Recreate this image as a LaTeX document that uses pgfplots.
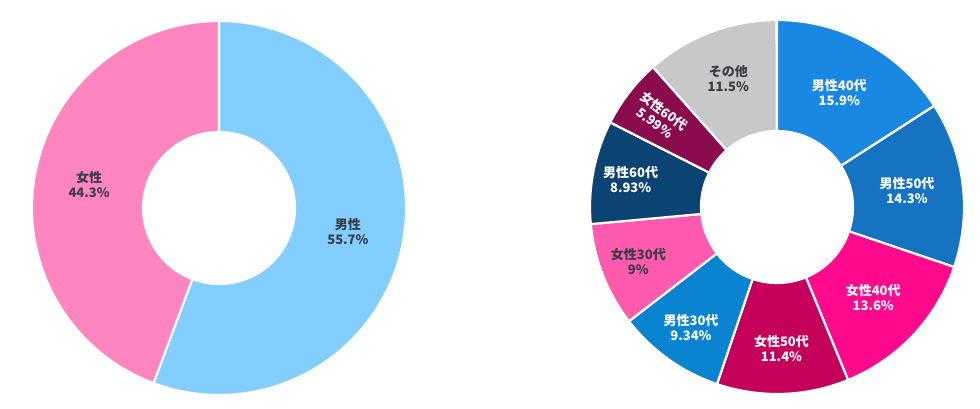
\documentclass[border=0pt]{standalone}
\usepackage{fontspec}
\setmainfont{Noto Sans CJK JP}
\usepackage{pgfplots}
\usepackage{pgfplotstable}
\pgfplotsset{compat=1.18}

\definecolor{mA}{HTML}{82CFFF}
\definecolor{fA}{HTML}{FF85C0}
\definecolor{m40}{HTML}{1A88E2}
\definecolor{m50}{HTML}{1573C2}
\definecolor{f40}{HTML}{FF0A8C}
\definecolor{f50}{HTML}{C4005A}
\definecolor{m30}{HTML}{0A84D0}
\definecolor{f30}{HTML}{FF5AAE}
\definecolor{m60}{HTML}{0B4472}
\definecolor{f60}{HTML}{8A0B4E}
\definecolor{oth}{HTML}{C8C8C8}
\definecolor{dk}{HTML}{3A3C46}

% name, share (%), fill, label colour, label radius, label rotation
\pgfplotstableread[col sep=comma]{
name,value,col,tc,lr,rot
男性,55.7,mA,dk,131,0
女性,44.3,fA,dk,132,0
}\leftdata

\pgfplotstableread[col sep=comma]{
name,value,col,tc,lr,rot
男性40代,15.9,m40,white,130,0
男性50代,14.3,m50,white,131,0
女性40代,13.6,f40,white,132,0
女性50代,11.4,f50,white,142,0
男性30代,9.34,m30,white,148,0
女性30代,9,f30,dk,149,0
男性60代,8.93,m60,white,149,0
女性60代,5.99,f60,white,148,-37.8
その他,11.5,oth,dk,137,0
}\rightdata

% #1 table, #2 #3 centre, #4 last row index
\newcommand\donut[4]{%
  \pgfplotsextra{\xdef\cumsum{0}}%
  \pgfplotsinvokeforeach{0,...,#4}{%
    \pgfplotsextra{%
      \pgfplotstablegetelem{##1}{value}\of#1\let\v\pgfplotsretval
      \pgfplotstablegetelem{##1}{name}\of#1\let\nm\pgfplotsretval
      \pgfplotstablegetelem{##1}{col}\of#1\let\fc\pgfplotsretval
      \pgfplotstablegetelem{##1}{tc}\of#1\let\tc\pgfplotsretval
      \pgfplotstablegetelem{##1}{lr}\of#1\let\lr\pgfplotsretval
      \pgfplotstablegetelem{##1}{rot}\of#1\let\rt\pgfplotsretval
      \pgfmathsetmacro\as{90-3.6*\cumsum}%
      \pgfmathsetmacro\ae{\as-3.6*\v}%
      \pgfmathsetmacro\am{(\as+\ae)/2}%
      \pgfmathsetmacro\newsum{\cumsum+\v}%
      \xdef\cumsum{\newsum}%
      \fill[fill=\fc, draw=white, line width=2.2pt, line join=miter]
        (axis cs:{#2+187*cos(\as)},{#3+187*sin(\as)})
        arc[start angle=\as, end angle=\ae, radius=187pt]
        -- (axis cs:{#2+76*cos(\ae)},{#3+76*sin(\ae)})
        arc[start angle=\ae, end angle=\as, radius=76pt] -- cycle;
      \node[text=\tc, rotate=\rt, align=center, inner sep=0pt,
            font=\fontsize{13}{15}\selectfont\bfseries]
        at (axis cs:{#2+\lr*cos(\am)},{#3+\lr*sin(\am)}) {\nm\\\v\%};
    }}%
}

\begin{document}
\begin{tikzpicture}
\begin{axis}[
    x=1pt, y=1pt,
    xmin=0, xmax=980, ymin=0, ymax=408,
    hide axis, clip=false,
]
  \path (axis cs:0,0) (axis cs:980,408);
  \donut{\leftdata}{219}{200}{1}
  \donut{\rightdata}{777}{201}{8}
\end{axis}
\end{tikzpicture}
\end{document}
